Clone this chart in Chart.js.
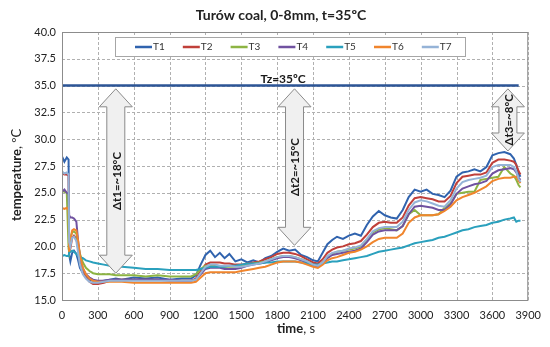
<!DOCTYPE html>
<html>
<head>
<meta charset="utf-8">
<title>Turów coal, 0-8mm</title>
<style>
  html, body { margin: 0; padding: 0; background: #fff; }
  canvas { display: block; }
</style>
</head>
<body>
<canvas id="chart" width="550" height="347"></canvas>
<script src="https://cdn.jsdelivr.net/npm/chart.js"></script>
<script>
// time axis (s), shared by all series
const times = [0, 20, 40, 55, 60, 70, 85, 100, 120, 135, 150, 175, 200, 230, 260, 300, 350, 400, 450, 500,
  600, 700, 800, 900, 1000, 1080, 1120, 1160, 1200, 1240, 1280, 1320, 1360, 1400, 1450, 1500, 1550, 1600, 1650, 1700,
  1750, 1800, 1850, 1900, 1950, 2000, 2050, 2100, 2140, 2180, 2220, 2260, 2300, 2350, 2400, 2450, 2500, 2550, 2600, 2650,
  2700, 2750, 2800, 2850, 2900, 2950, 3000, 3050, 3100, 3150, 3200, 3250, 3300, 3350, 3400, 3450, 3500, 3550, 3600, 3650,
  3700, 3750, 3780, 3800, 3820, 3835];

const t1 = [28.4, 27.9, 28.3, 28.1, 19.2, 18.6, 19.4, 19.6, 19.3, 18.7, 18.0, 17.5, 17.2, 16.9, 16.8, 16.7, 16.8, 16.9, 17.0, 16.9,
  17.1, 17.0, 17.1, 16.9, 17.0, 17.0, 17.3, 18.3, 19.2, 19.6, 19.0, 19.4, 18.9, 19.3, 18.6, 18.8, 18.5, 18.7, 18.5, 18.9,
  19.1, 19.5, 19.8, 19.6, 19.7, 19.2, 19.0, 18.7, 18.6, 19.4, 20.2, 20.6, 20.9, 20.7, 21.0, 21.2, 21.0, 22.0, 22.8, 23.3,
  22.9, 22.7, 22.6, 23.4, 24.6, 25.3, 25.1, 25.3, 24.9, 24.8, 24.6, 25.2, 26.5, 26.9, 27.0, 27.2, 27.0, 27.4, 28.5, 28.7,
  28.8, 28.6, 28.2, 27.6, 26.8, 26.5];
const t2 = [26.8, 26.7, 26.7, 26.6, 19.6, 19.8, 20.8, 21.0, 20.7, 19.8, 18.6, 17.6, 17.1, 16.7, 16.5, 16.5, 16.6, 16.8, 16.9, 16.9,
  16.9, 16.9, 16.9, 16.8, 16.8, 16.8, 17.0, 17.7, 18.3, 18.5, 18.5, 18.5, 18.4, 18.4, 18.3, 18.3, 18.4, 18.5, 18.6, 18.8,
  19.0, 19.3, 19.4, 19.4, 19.3, 19.1, 18.8, 18.5, 18.4, 18.8, 19.4, 19.7, 19.9, 20.0, 20.2, 20.3, 20.5, 21.1, 21.8, 22.2,
  22.3, 22.2, 22.2, 22.7, 23.8, 24.5, 24.6, 24.5, 24.4, 24.2, 24.2, 24.7, 25.9, 26.5, 26.6, 26.7, 26.7, 26.9, 27.8, 28.1,
  28.1, 28.0, 27.9, 27.6, 27.0, 26.7];
const t3 = [25.2, 25.1, 25.0, 19.8, 19.5, 20.8, 21.3, 21.4, 21.2, 20.2, 19.3, 18.5, 18.0, 17.7, 17.5, 17.4, 17.4, 17.4, 17.3, 17.3,
  17.3, 17.2, 17.3, 17.2, 17.2, 17.2, 17.4, 17.9, 18.2, 18.2, 18.2, 18.1, 18.1, 18.1, 18.1, 18.2, 18.3, 18.4, 18.5, 18.6,
  18.8, 19.0, 19.1, 19.1, 19.0, 18.8, 18.6, 18.3, 18.2, 18.5, 19.0, 19.3, 19.5, 19.6, 19.7, 19.8, 20.0, 20.6, 21.3, 21.6,
  21.7, 21.6, 21.5, 21.9, 23.0, 23.4, 22.9, 22.9, 22.9, 23.0, 23.6, 24.0, 24.9, 25.0, 25.1, 25.1, 26.2, 26.3, 26.4, 26.5,
  27.4, 26.8, 26.6, 26.2, 25.7, 25.5];
const t4 = [25.1, 25.3, 25.0, 24.9, 22.9, 22.7, 22.7, 22.6, 22.3, 20.5, 19.0, 17.9, 17.4, 17.1, 16.9, 16.8, 16.8, 16.9, 16.9, 16.9,
  16.9, 16.9, 16.9, 16.9, 16.8, 16.8, 16.9, 17.4, 17.9, 18.0, 18.0, 18.0, 17.9, 17.9, 17.9, 18.0, 18.2, 18.3, 18.4, 18.5,
  18.7, 18.9, 19.0, 19.0, 18.9, 18.7, 18.5, 18.2, 18.1, 18.4, 18.9, 19.2, 19.3, 19.4, 19.5, 19.6, 19.8, 20.4, 21.1, 21.4,
  21.5, 21.5, 21.5, 21.9, 23.0, 23.7, 23.8, 23.7, 23.6, 23.4, 23.4, 23.9, 24.9, 25.4, 25.6, 25.8, 25.9, 26.1, 26.8, 27.1,
  27.2, 27.3, 27.2, 26.9, 26.4, 26.2];
const t5 = [19.1, 19.2, 19.1, 19.1, 19.4, 19.5, 19.6, 19.5, 19.3, 19.1, 19.0, 18.9, 18.7, 18.6, 18.5, 18.4, 18.3, 18.2, 18.1, 18.1,
  18.0, 17.9, 17.9, 17.8, 17.8, 17.8, 17.8, 17.9, 18.0, 18.1, 18.1, 18.1, 18.1, 18.2, 18.2, 18.3, 18.4, 18.4, 18.4, 18.5,
  18.5, 18.6, 18.6, 18.6, 18.6, 18.5, 18.4, 18.3, 18.3, 18.4, 18.5, 18.6, 18.6, 18.7, 18.8, 18.9, 19.0, 19.1, 19.3, 19.5,
  19.6, 19.7, 19.8, 19.9, 20.1, 20.3, 20.4, 20.5, 20.6, 20.8, 20.9, 21.1, 21.3, 21.5, 21.6, 21.8, 21.9, 22.0, 22.2, 22.3,
  22.5, 22.6, 22.7, 22.3, 22.4, 22.4];
const t6 = [23.6, 23.5, 23.6, 23.4, 19.5, 20.6, 21.5, 21.6, 21.5, 20.5, 19.2, 18.0, 17.4, 17.0, 16.8, 16.7, 16.7, 16.7, 16.7, 16.7,
  16.6, 16.6, 16.6, 16.6, 16.6, 16.6, 16.7, 17.1, 17.5, 17.6, 17.6, 17.6, 17.6, 17.6, 17.6, 17.7, 17.8, 17.9, 18.0, 18.1,
  18.3, 18.5, 18.6, 18.6, 18.6, 18.5, 18.3, 18.1, 18.0, 18.3, 18.7, 18.9, 19.0, 19.2, 19.4, 19.5, 19.7, 20.0, 20.4, 20.7,
  20.8, 20.8, 20.8, 21.2, 22.2, 22.7, 22.9, 22.9, 22.9, 23.0, 23.3, 23.7, 24.3, 24.6, 24.8, 25.0, 25.3, 25.6, 26.1, 26.3,
  26.4, 26.4, 26.5, 26.5, 26.1, 25.9];
const t7 = [27.0, 26.8, 26.9, 26.7, 20.4, 20.0, 20.8, 20.9, 20.5, 19.4, 18.3, 17.4, 17.0, 16.7, 16.6, 16.6, 16.7, 16.8, 16.8, 16.8,
  16.8, 16.8, 16.8, 16.8, 16.8, 16.8, 16.9, 17.5, 18.1, 18.3, 18.3, 18.2, 18.2, 18.2, 18.1, 18.1, 18.2, 18.3, 18.4, 18.6,
  18.8, 19.0, 19.1, 19.1, 19.0, 18.8, 18.6, 18.3, 18.2, 18.5, 19.1, 19.4, 19.5, 19.6, 19.8, 19.9, 20.1, 20.7, 21.4, 21.7,
  21.8, 21.8, 21.8, 22.3, 23.4, 24.1, 24.3, 24.2, 24.0, 23.8, 23.7, 24.3, 25.4, 26.0, 26.2, 26.3, 26.4, 26.6, 27.4, 27.6,
  27.6, 27.6, 27.4, 27.0, 26.3, 26.0];

const seriesNames = ['T1', 'T2', 'T3', 'T4', 'T5', 'T6', 'T7'];
const seriesValues = [t1, t2, t3, t4, t5, t6, t7];
const seriesColors = ['#3063ae', '#c0403a', '#8db443', '#7052a0', '#2aa0bd', '#f0852d', '#95b3d7'];

// set temperature line
const tzValue = 35;
const tzTimes = [0, 3820];

// double arrows: position (s), lower tip (°C), upper tip (°C), text
const arrowTimes = [450, 1945, 3730];
const arrowBottoms = [17.5, 20.1, 28.9];
const arrowTop = 34.7;
const arrowLabels = ['\u0394t1=~18\u00b0C', '\u0394t2=~15\u00b0C', '\u0394t3=~8\u00b0C'];

const xMin = 0, xMax = 3900, xStep = 300;
const yMin = 15, yMax = 40, yStep = 2.5;

const FONT = 'Lato, "Noto Sans", sans-serif';

const datasets = seriesValues.map((vals, i) => ({
  label: seriesNames[i],
  data: times.map((t, j) => ({ x: t, y: vals[j] })),
  borderColor: seriesColors[i],
  borderWidth: 2,
  pointRadius: 0,
  tension: 0,
  order: seriesNames.length - i
}));
datasets.push({
  label: 'Tz',
  data: tzTimes.map(t => ({ x: t, y: tzValue })),
  borderColor: '#2c5596',
  borderWidth: 2.5,
  pointRadius: 0,
  order: 0
});

function drawArrow(ctx, cx, yTop, yBot) {
  const hw = 16.5, sw = 9, hh = 18;
  ctx.beginPath();
  ctx.moveTo(cx, yTop);
  ctx.lineTo(cx + hw, yTop + hh);
  ctx.lineTo(cx + sw, yTop + hh);
  ctx.lineTo(cx + sw, yBot - hh);
  ctx.lineTo(cx + hw, yBot - hh);
  ctx.lineTo(cx, yBot);
  ctx.lineTo(cx - hw, yBot - hh);
  ctx.lineTo(cx - sw, yBot - hh);
  ctx.lineTo(cx - sw, yTop + hh);
  ctx.lineTo(cx - hw, yTop + hh);
  ctx.closePath();
  ctx.fillStyle = '#f0f0f0';
  ctx.fill();
  ctx.strokeStyle = '#8a8a8a';
  ctx.lineWidth = 1;
  ctx.stroke();
}

// two-part text: bold part then normal part, centred on (0,0)
function mixedText(ctx, boldPart, normalPart, size) {
  ctx.font = 'bold ' + size + 'px ' + FONT;
  const w1 = ctx.measureText(boldPart).width;
  ctx.font = size + 'px ' + FONT;
  const w2 = ctx.measureText(normalPart).width;
  let x = -(w1 + w2) / 2;
  ctx.textAlign = 'left';
  ctx.textBaseline = 'middle';
  ctx.font = 'bold ' + size + 'px ' + FONT;
  ctx.fillText(boldPart, x, 0);
  ctx.font = size + 'px ' + FONT;
  ctx.fillText(normalPart, x + w1, 0);
}

const overlay = {
  id: 'overlay',
  beforeDatasetsDraw(chart) {
    // dashed grid
    const { ctx, chartArea: a, scales: { x, y } } = chart;
    ctx.save();
    ctx.strokeStyle = '#b0b0b0';
    ctx.lineWidth = 1;
    ctx.setLineDash([3, 2]);
    x.ticks.forEach(t => {
      const px = Math.round(x.getPixelForValue(t.value)) + 0.5;
      ctx.beginPath();
      ctx.moveTo(px, a.top);
      ctx.lineTo(px, a.bottom);
      ctx.stroke();
    });
    y.ticks.forEach(t => {
      const py = Math.round(y.getPixelForValue(t.value)) + 0.5;
      ctx.beginPath();
      ctx.moveTo(a.left, py);
      ctx.lineTo(a.right, py);
      ctx.stroke();
    });
    ctx.restore();
  },
  afterDatasetsDraw(chart) {
    const { ctx, chartArea: a, scales: { x, y } } = chart;
    ctx.save();

    // frame
    ctx.strokeStyle = '#8c8c8c';
    ctx.lineWidth = 1;
    ctx.strokeRect(a.left + 0.5, a.top + 0.5, a.right - a.left - 1, a.bottom - a.top);

    // arrows
    arrowTimes.forEach((t, i) => {
      const cx = x.getPixelForValue(t);
      const yt = y.getPixelForValue(arrowTop);
      const yb = y.getPixelForValue(arrowBottoms[i]);
      drawArrow(ctx, cx, yt, yb);
      ctx.save();
      ctx.translate(cx + 1, (yt + yb) / 2);
      ctx.rotate(-Math.PI / 2);
      ctx.fillStyle = '#1a1a1a';
      ctx.font = 'bold 11.5px ' + FONT;
      ctx.textAlign = 'center';
      ctx.textBaseline = 'middle';
      ctx.fillText(arrowLabels[i], 0, 0);
      ctx.restore();
    });

    // Tz label
    ctx.fillStyle = '#1a1a1a';
    ctx.font = 'bold 12px ' + FONT;
    ctx.textAlign = 'center';
    ctx.textBaseline = 'alphabetic';
    ctx.fillText('Tz=' + tzValue + '\u00baC', x.getPixelForValue(1850), y.getPixelForValue(tzValue) - 3);

    // legend box
    const lx = 115, ly = 37, lw = 350, lh = 19;
    ctx.fillStyle = '#ffffff';
    ctx.fillRect(lx, ly, lw, lh);
    ctx.strokeStyle = '#a6a6a6';
    ctx.strokeRect(lx + 0.5, ly + 0.5, lw, lh);
    ctx.font = '10px ' + FONT;
    ctx.textBaseline = 'middle';
    ctx.textAlign = 'left';
    seriesNames.forEach((name, i) => {
      const sx = 135 + i * 47.8;
      const sy = ly + lh / 2 + 0.5;
      ctx.strokeStyle = seriesColors[i];
      ctx.lineWidth = 2.5;
      ctx.beginPath();
      ctx.moveTo(sx, sy);
      ctx.lineTo(sx + 17, sy);
      ctx.stroke();
      ctx.fillStyle = '#333';
      ctx.fillText(name, sx + 18, sy);
    });

    ctx.restore();
  },
  afterDraw(chart) {
    const { ctx } = chart;
    ctx.save();
    ctx.fillStyle = '#222';
    // title
    ctx.font = 'bold 14px ' + FONT;
    ctx.textAlign = 'center';
    ctx.textBaseline = 'middle';
    ctx.fillText('Tur\u00f3w coal, 0-8mm, t=35\u00baC', 281, 15);
    // axis titles
    ctx.save();
    ctx.translate(296, 329);
    mixedText(ctx, 'time', ', s', 13);
    ctx.restore();
    ctx.save();
    ctx.translate(17, 175);
    ctx.rotate(-Math.PI / 2);
    mixedText(ctx, 'temperature', ', \u00baC', 13);
    ctx.restore();
    ctx.restore();
  }
};

Chart.defaults.font.family = FONT;
Chart.defaults.font.size = 11;
Chart.defaults.color = '#222';

new Chart(document.getElementById('chart'), {
  type: 'line',
  data: { datasets },
  options: {
    responsive: false,
    animation: false,
    layout: { padding: { top: 32, right: 17, bottom: 0, left: 0 } },
    plugins: { legend: { display: false }, tooltip: { enabled: false } },
    scales: {
      x: {
        type: 'linear',
        min: xMin, max: xMax,
        ticks: { stepSize: xStep, padding: 9, maxRotation: 0, autoSkip: false, callback: v => String(v) },
        grid: { display: false, drawTicks: false },
        border: { display: false },
        afterFit(s) { s.height = 47; }
      },
      y: {
        min: yMin, max: yMax,
        ticks: { stepSize: yStep, padding: 6, callback: v => v.toFixed(1) },
        grid: { display: false, drawTicks: false },
        border: { display: false },
        afterFit(s) { s.width = 62; }
      }
    }
  },
  plugins: [overlay]
});
</script>
</body>
</html>
